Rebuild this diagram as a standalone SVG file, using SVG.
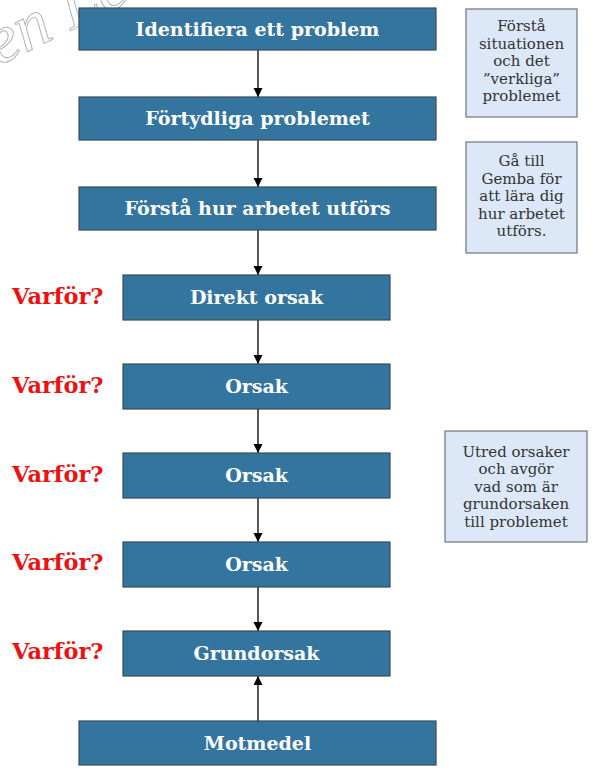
<svg xmlns="http://www.w3.org/2000/svg" width="605" height="770" viewBox="0 0 605 770">
<defs>
<style>
.box{fill:#33759f;stroke:#3c4a55;stroke-width:1.2}
.note{fill:#dce8f8;stroke:#6f7378;stroke-width:1.2}
.bt{font-family:"DejaVu Serif","Liberation Serif",serif;font-weight:bold;font-size:19px;fill:#ffffff;text-anchor:middle}
.nt{font-family:"DejaVu Serif","Liberation Serif",serif;font-size:15px;fill:#333333;text-anchor:middle}
.why{font-family:"DejaVu Serif","Liberation Serif",serif;font-weight:bold;font-size:22.5px;fill:#ee1111}
.con{stroke:#000;stroke-width:1.3;fill:none;marker-end:url(#ah)}
.wm{font-family:"Liberation Serif",serif;font-style:italic;font-size:68px;fill:#ffffff;fill-opacity:0;stroke:#b4b4b4;stroke-width:1}
</style>
<marker id="ah" markerWidth="10" markerHeight="10" refX="9" refY="4.5" orient="auto" markerUnits="userSpaceOnUse">
<path d="M0,0 L9,4.5 L0,9 z" fill="#000"/>
</marker>
</defs>
<rect width="605" height="770" fill="#fff"/>
<text class="wm" transform="translate(-2,66) rotate(-26)">en Le</text>
<g id="connectors">
<line class="con" x1="258" y1="50" x2="258" y2="97"/>
<line class="con" x1="258" y1="140" x2="258" y2="187"/>
<line class="con" x1="258" y1="230" x2="258" y2="275"/>
<line class="con" x1="258" y1="320" x2="258" y2="364"/>
<line class="con" x1="258" y1="409" x2="258" y2="453"/>
<line class="con" x1="258" y1="498" x2="258" y2="542"/>
<line class="con" x1="258" y1="587" x2="258" y2="631"/>
<line class="con" x1="258" y1="721" x2="258" y2="676"/>
</g>
<g id="n1"><rect class="box" x="79" y="8" width="357" height="42"/><text class="bt" x="257.5" y="35.5">Identifiera ett problem</text></g>
<g id="n2"><rect class="box" x="79" y="97" width="357" height="43"/><text class="bt" x="257.5" y="125">Förtydliga problemet</text></g>
<g id="n3"><rect class="box" x="79" y="187" width="357" height="43"/><text class="bt" x="257.5" y="215">Förstå hur arbetet utförs</text></g>
<g id="n4"><rect class="box" x="123" y="275" width="267" height="45"/><text class="bt" x="256.5" y="304">Direkt orsak</text></g>
<g id="n5"><rect class="box" x="123" y="364" width="267" height="45"/><text class="bt" x="256.5" y="393">Orsak</text></g>
<g id="n6"><rect class="box" x="123" y="453" width="267" height="45"/><text class="bt" x="256.5" y="482">Orsak</text></g>
<g id="n7"><rect class="box" x="123" y="542" width="267" height="45"/><text class="bt" x="256.5" y="571">Orsak</text></g>
<g id="n8"><rect class="box" x="123" y="631" width="267" height="45"/><text class="bt" x="256.5" y="660">Grundorsak</text></g>
<g id="n9"><rect class="box" x="79" y="721" width="357" height="44"/><text class="bt" x="257.5" y="750">Motmedel</text></g>
<g id="why">
<text class="why" x="12" y="304">Varför?</text>
<text class="why" x="12" y="393">Varför?</text>
<text class="why" x="12" y="482">Varför?</text>
<text class="why" x="12" y="570">Varför?</text>
<text class="why" x="12" y="659">Varför?</text>
</g>
<g id="note1"><rect class="note" x="466" y="9" width="111" height="108"/>
<text class="nt" x="521.5" y="31">Förstå</text>
<text class="nt" x="521.5" y="48.5">situationen</text>
<text class="nt" x="521.5" y="66">och det</text>
<text class="nt" x="521.5" y="83.5">”verkliga”</text>
<text class="nt" x="521.5" y="101">problemet</text>
</g>
<g id="note2"><rect class="note" x="466" y="142" width="111" height="111"/>
<text class="nt" x="521.5" y="166">Gå till</text>
<text class="nt" x="521.5" y="183.5">Gemba för</text>
<text class="nt" x="521.5" y="201">att lära dig</text>
<text class="nt" x="521.5" y="218.5">hur arbetet</text>
<text class="nt" x="521.5" y="236">utförs.</text>
</g>
<g id="note3"><rect class="note" x="445" y="431" width="142" height="111"/>
<text class="nt" x="516" y="456.5">Utred orsaker</text>
<text class="nt" x="516" y="474">och avgör</text>
<text class="nt" x="516" y="491.5">vad som är</text>
<text class="nt" x="516" y="509">grundorsaken</text>
<text class="nt" x="516" y="526.5">till problemet</text>
</g>
</svg>
